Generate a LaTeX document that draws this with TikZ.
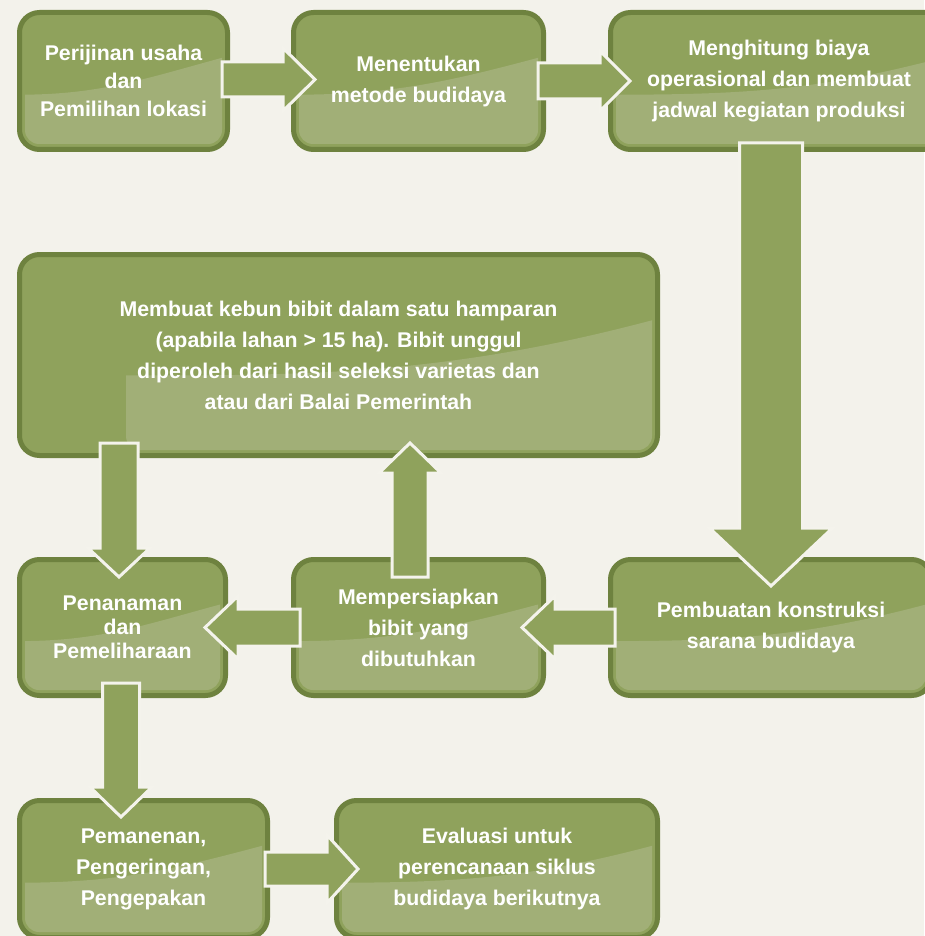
\documentclass[tikz,border=0pt]{standalone}
\usepackage{fontspec}
\setmainfont{Liberation Sans}
\usetikzlibrary{calc}

\begin{document}
\begin{tikzpicture}[x=1pt, y=1pt,
  shine left/.code={\def\shineleft{#1}},
  stepbox/.style={rectangle, rounded corners=20pt, draw=boxedge, line width=5pt,
    fill=boxfill, text=white, align=center, inner sep=0pt, shine left=0pt,
    font=\bfseries\fontsize{21.3}{31}\selectfont,
    path picture={
      % lighter lower part of each box
      \begin{scope}[sharp corners]
        \clip let \p1=(path picture bounding box.south west), \p2=(path picture bounding box.north east) in
          (\x1,\y1) -- (\x1,{\y2-0.6*(\y2-\y1)}) to[out=0, in=195] (\x2,{\y2-0.32*(\y2-\y1)}) -- (\x2,\y1) -- cycle;
        \fill[boxshine, rounded corners=14pt] let \p1=(path picture bounding box.south west), \p2=(path picture bounding box.north east) in
          ({\x1+5.5pt+\shineleft},{\y1+5.5pt}) rectangle ({\x2-5.5pt},{\y2-5.5pt});
      \end{scope}
    }},
  arrowbox/.style={fill=arrowfill, draw=arrowedge, line width=3pt, line join=miter}]

  % Colors
  \definecolor{bgcolor}{HTML}{F3F2EB}
  \definecolor{boxfill}{HTML}{8FA25C}
  \definecolor{boxshine}{HTML}{A1AF77}
  \definecolor{boxedge}{HTML}{6E823F}
  \definecolor{arrowfill}{HTML}{8FA25C}
  \definecolor{arrowedge}{HTML}{F4F3EC}

  % block arrow: start, tip, shaft half width, head half width, head length
  \def\blockarrow#1#2#3#4#5{
    \coordinate (ba-h) at ($(#2)!#5!(#1)$);
    \draw[arrowbox] ($(#1)!#3!90:(#2)$) -- ($(ba-h)!#3!90:(#2)$) -- ($(ba-h)!#4!90:(#2)$) -- (#2)
      -- ($(ba-h)!#4!-90:(#2)$) -- ($(ba-h)!#3!-90:(#2)$) -- ($(#1)!#3!-90:(#2)$) -- cycle;
  }

  % Background
  \fill[bgcolor] (0,0) rectangle (924,-936);
  \useasboundingbox (0,0) rectangle (924,-936);

  % Row 1
  \node[stepbox, minimum width=208pt, minimum height=137pt, font=\bfseries\fontsize{21.3}{28}\selectfont] (perijinan) at (123.5,-81)
    {Perijinan usaha\\dan\\Pemilihan lokasi};
  \node[stepbox, minimum width=250pt, minimum height=137pt] (metode) at (418.5,-81)
    {Menentukan\\metode budidaya};
  \node[stepbox, minimum width=337pt, minimum height=137pt] (biaya) at (779,-81)
    {Menghitung biaya\\operasional dan membuat\\jadwal kegiatan produksi};

  % Row 2
  \node[stepbox, minimum width=638pt, minimum height=201pt, shine left=101pt] (kebun) at (338.5,-355)
    {Membuat kebun bibit dalam satu hamparan\\(apabila lahan > 15 ha). Bibit unggul\\diperoleh dari hasil seleksi varietas dan\\atau dari Balai Pemerintah};

  % Row 3
  \node[stepbox, minimum width=206pt, minimum height=136pt, font=\bfseries\fontsize{21.3}{24}\selectfont] (tanam) at (122.5,-627.5)
    {Penanaman\\dan\\Pemeliharaan};
  \node[stepbox, minimum width=250pt, minimum height=136pt] (bibit) at (418.5,-627.5)
    {Mempersiapkan\\bibit yang\\dibutuhkan};
  \node[stepbox, minimum width=321pt, minimum height=136pt] (konstruksi) at (771,-627.5)
    {Pembuatan konstruksi\\sarana budidaya};

  % Row 4
  \node[stepbox, minimum width=248pt, minimum height=137pt] (panen) at (143.5,-869)
    {Pemanenan,\\Pengeringan,\\Pengepakan};
  \node[stepbox, minimum width=321pt, minimum height=137pt] (evaluasi) at (497,-869)
    {Evaluasi untuk\\perencanaan siklus\\budidaya berikutnya};

  % Arrow ends
  \coordinate (a1s) at ($(perijinan.east)+(-8,1.5)$);
  \coordinate (a1e) at ($(metode.west)+(24,1.5)$);
  \coordinate (a2s) at ($(metode.east)+(-8,0)$);
  \coordinate (a2e) at ($(biaya.west)+(22,0)$);
  \coordinate (a3s) at ($(biaya.south -| konstruksi.north)+(0,9)$);
  \coordinate (a3e) at ($(konstruksi.north)+(0,-29)$);
  \coordinate (a4s) at ($(konstruksi.west)+(7,0)$);
  \coordinate (a4e) at ($(bibit.east)+(-24,0)$);
  \coordinate (a5s) at ($(bibit.west)+(9,0)$);
  \coordinate (a5e) at ($(tanam.east)+(-23,0)$);
  \coordinate (a6s) at ($(bibit.north)+(-8.5,-20)$);
  \coordinate (a6e) at ($(a6s |- kebun.south)+(0,15)$);
  \coordinate (a7s) at ($(kebun.south -| tanam.north)+(-3.5,15)$);
  \coordinate (a7e) at ($(tanam.north)+(-3.5,-20)$);
  \coordinate (a8s) at ($(tanam.south)+(-1.5,15)$);
  \coordinate (a8e) at ($(panen.north -| a8s)+(0,-19)$);
  \coordinate (a9s) at ($(panen.east)+(-5,0)$);
  \coordinate (a9e) at ($(evaluasi.west)+(24,0)$);

  % Arrows
  \blockarrow{a1s}{a1e}{17.5pt}{31.5pt}{32pt}
  \blockarrow{a2s}{a2e}{18pt}{30pt}{30pt}
  \blockarrow{a3s}{a3e}{31.5pt}{61.5pt}{58pt}
  \blockarrow{a4s}{a4e}{18.5pt}{31.5pt}{33pt}
  \blockarrow{a5s}{a5e}{18.5pt}{31.5pt}{33pt}
  \blockarrow{a6s}{a6e}{18pt}{31pt}{30pt}
  \blockarrow{a7s}{a7e}{19pt}{31pt}{29pt}
  \blockarrow{a8s}{a8e}{18.5pt}{31pt}{30pt}
  \blockarrow{a9s}{a9e}{17pt}{34pt}{31pt}

\end{tikzpicture}
\end{document}
